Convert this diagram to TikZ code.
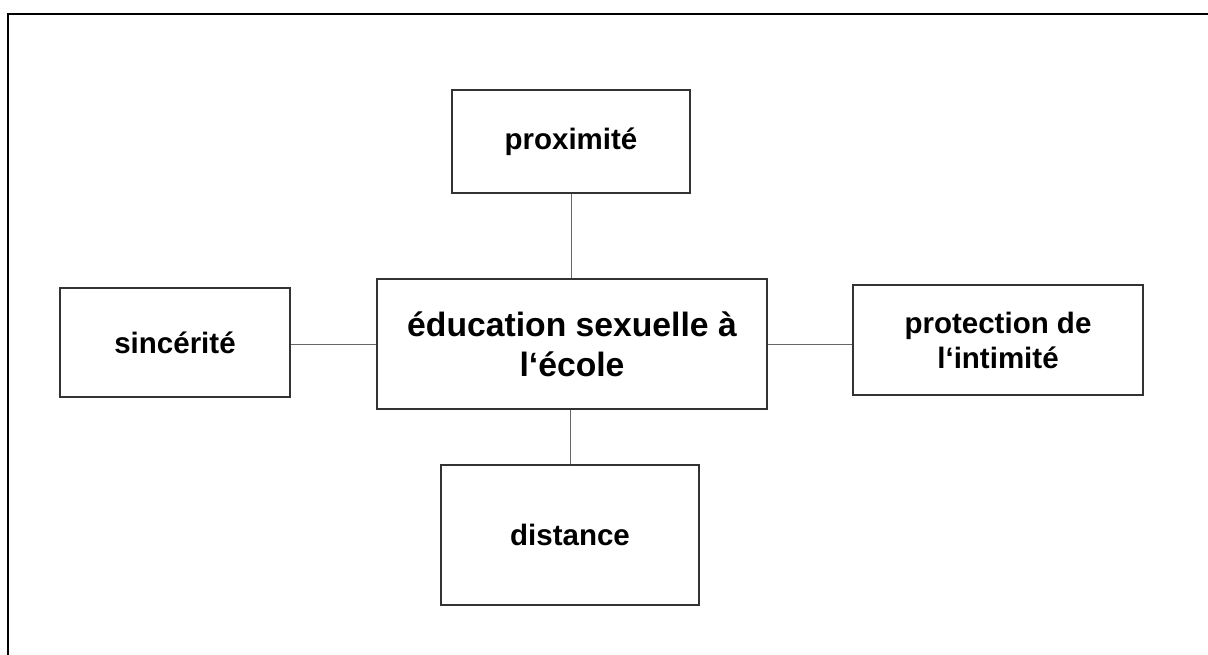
\documentclass[tikz,border=0pt]{standalone}
\usepackage{fontspec}
\setmainfont{Liberation Sans}
\begin{document}
\begin{tikzpicture}[x=1pt,y=-1pt,
  box/.style={draw=black!80, line width=1.3pt, fill=white, inner sep=0pt, align=center,
    font=\bfseries\fontsize{29.5}{35}\selectfont},
  bigbox/.style={box, font=\bfseries\fontsize{33.7}{40}\selectfont},
  link/.style={draw=black!60, line width=1pt},
  frame/.style={draw=black, line width=2pt}]
\useasboundingbox (0,0) rectangle (1208,655);
\coordinate (fbl) at (8,660);
\coordinate (ftl) at (8,14);
\coordinate (ftr) at (1212,14);
\draw[frame] (fbl) -- (ftl) -- (ftr);

\node[bigbox, minimum width=390pt, minimum height=130pt] (central) at (572,344)
  {éducation sexuelle à\\l‘école};
\node[box, minimum width=238pt, minimum height=103pt] (prox) at (571,141.5) {proximité};
\node[box, minimum width=258pt, minimum height=140pt] (dist) at (570,535) {distance};
\node[box, minimum width=230pt, minimum height=109pt] (sinc) at (175,342.5) {sincérité};
\node[box, minimum width=290pt, minimum height=110pt] (prot) at (998,340) {protection de\\l‘intimité};

\draw[link] (prox.south) -- (prox.south |- central.north);
\draw[link] (dist.north) -- (dist.north |- central.south);
\draw[link] (sinc.east |- central.west) -- (central.west);
\draw[link] (central.east) -- (prot.west |- central.east);
\end{tikzpicture}
\end{document}
